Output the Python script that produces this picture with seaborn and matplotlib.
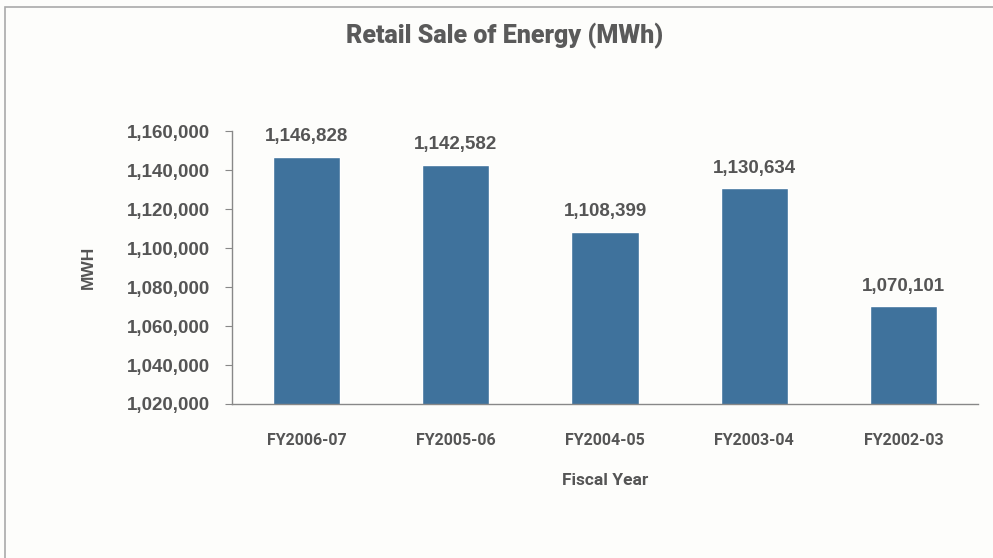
import numpy as np
import pandas as pd
import seaborn as sns
import matplotlib.pyplot as plt
from matplotlib.ticker import FuncFormatter, FixedLocator
from matplotlib.patches import Rectangle

# Chart data
years = ["FY2006-07", "FY2005-06", "FY2004-05", "FY2003-04", "FY2002-03"]
sales = [1146828, 1142582, 1108399, 1130634, 1070101]
y_ticks = [1020000, 1040000, 1060000, 1080000, 1100000, 1120000, 1140000, 1160000]

df = pd.DataFrame({"year": years, "mwh": sales})

sns.set_style("white")
plt.rcParams['font.family'] = ['Liberation Sans', 'DejaVu Sans']

text_col = "#555555"
bar_col = "#3F729C"

fig = plt.figure(figsize=(9.93, 5.58), dpi=100)
fig.patch.set_facecolor("#FDFDFB")
ax = fig.add_axes([0.2336, 0.276, 0.7514, 0.489])
ax.set_facecolor("none")

sns.barplot(data=df, x="year", y="mwh", color=bar_col, width=0.45,
            saturation=1, ax=ax)

ax.set_ylim(1020000, 1160000)
ax.set_xlim(-0.5, len(years) - 0.5)
ax.set_yticks(y_ticks)
ax.yaxis.set_major_formatter(FuncFormatter(lambda v, p: f"{int(v):,}"))

# value labels above bars
for i, v in enumerate(sales):
    ax.text(i, v + 6000, f"{v:,}", ha="center", va="bottom",
            fontsize=13.5, fontweight="bold", color=text_col)

# tick styling: x ticks at category boundaries
ax.xaxis.set_minor_locator(FixedLocator(np.arange(-0.5, len(years), 1.0)))
ax.tick_params(axis="x", which="major", length=0, pad=21,
               labelsize=11.5, labelcolor=text_col)
ax.tick_params(axis="x", which="minor", length=6, direction="out", color="#888888")
ax.tick_params(axis="y", which="major", length=5, direction="out", color="#888888",
               pad=11, labelsize=13.5, labelcolor=text_col, left=True)
for lab in ax.get_xticklabels() + ax.get_yticklabels():
    lab.set_fontweight("bold")
for lab in ax.get_xticklabels():
    lab.set_family(['Roboto', 'DejaVu Sans'])

sns.despine(ax=ax)
for s in ["left", "bottom"]:
    ax.spines[s].set_color("#888888")
    ax.spines[s].set_linewidth(1.0)

ax.set_xlabel("Fiscal Year", fontsize=12.5, fontweight="bold", color=text_col,
              labelpad=18, family=['Roboto', 'DejaVu Sans'])
ax.set_ylabel("MWH", fontsize=12.5, fontweight="bold", color=text_col, labelpad=22)

fig.text(0.508, 0.935, "Retail Sale of Energy (MWh)", ha="center", va="center",
         fontsize=18, fontweight="black", color="#5A5A5A",
         family=['Roboto', 'DejaVu Sans'])

# outer chart frame
fig.patches.append(Rectangle((0.005, -0.05), 1.2, 1.037, transform=fig.transFigure,
                             fill=False, edgecolor="#AAAAAA", linewidth=1.2))

fig.savefig("out.png", dpi=100, facecolor=fig.get_facecolor())
